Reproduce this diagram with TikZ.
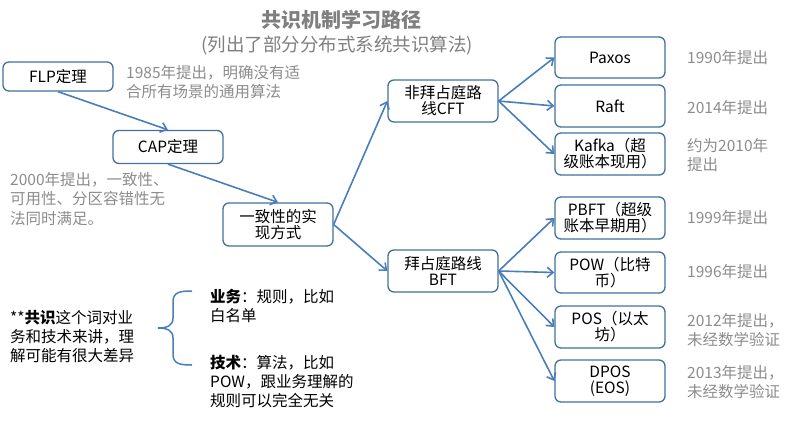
\documentclass[tikz,border=0pt]{standalone}
\usepackage{fontspec}
\setmainfont{Noto Sans CJK SC}
\usetikzlibrary{arrows.meta}
\definecolor{boxblue}{HTML}{41719C}
\definecolor{arrblue}{HTML}{4A7EBB}
\definecolor{notegray}{HTML}{8C8C8C}
\definecolor{titlegray}{HTML}{7F7F7F}
\begin{document}
\begin{tikzpicture}[x=1pt,y=-1pt,
 box/.style={draw=boxblue, line width=1.3pt, rounded corners=6pt, fill=white, minimum width=110pt, inner sep=0pt, align=center, font=\fontsize{15.5}{16}\selectfont},
 note/.style={anchor=west, inner sep=0pt, align=left, text=notegray, font=\fontsize{15.5}{19.5}\selectfont},
 plain/.style={anchor=west, inner sep=0pt, align=left, text=black, font=\fontsize{15.5}{19}\selectfont},
 conn/.style={draw=arrblue, line width=1.6pt, -{Straight Barb[length=6pt,width=10pt]}},
]
\useasboundingbox (0,0) rectangle (800,426);
% titles
\node[inner sep=0pt, text=titlegray, font=\fontsize{20}{22}\selectfont\bfseries] (title) at (341,20) {共识机制学习路径};
\node[inner sep=0pt, text=titlegray, font=\fontsize{18.5}{20}\selectfont] (subtitle) at (337,45) {(列出了部分分布式系统共识算法)};
% boxes
\node[box, minimum height=29pt] (flp) at (58,76.5) {FLP定理};
\node[box, minimum height=33pt] (cap) at (168,147) {CAP定理};
\node[box, minimum height=43pt] (yzx) at (278,224.5) {一致性的实\\现方式};
\node[box, minimum height=42pt] (cft) at (443,101) {非拜占庭路\\线CFT};
\node[box, minimum height=42pt] (bft) at (443,271) {拜占庭路线\\BFT};
\node[box, minimum height=41pt] (paxos) at (610,57.5) {Paxos};
\node[box, minimum height=42pt] (raft) at (610,106) {Raft};
\node[box, minimum height=42pt] (kafka) at (610,154) {Kafka（超\\级账本现用）};
\node[box, minimum height=42pt] (pbft) at (610,218) {PBFT（超级\\账本早期用）};
\node[box, minimum height=41pt] (pow) at (610,272.5) {POW（比特\\币）};
\node[box, minimum height=42pt] (pos) at (610,327) {POS（以太\\坊）};
\node[box, minimum height=42pt] (dpos) at (610,381) {DPOS\\(EOS)};
% notes
\node[note] (n1985) at (126,82) {1985年提出，明确没有适\\合所有场景的通用算法};
\node[note] (n2000) at (10,199) {2000年提出，一致性、\\可用性、分区容错性无\\法同时满足。};
\node[note] (n1990) at (687,58) {1990年提出};
\node[note] (n2014) at (687,108) {2014年提出};
\node[note] (n2010) at (687,155) {约为2010年\\提出};
\node[note] (n1999) at (687,218) {1999年提出};
\node[note] (n1996) at (687,272) {1996年提出};
\node[note] (n2012) at (687,330) {2012年提出，\\未经数学验证};
\node[note] (n2013) at (687,382) {2013年提出，\\未经数学验证};
% bottom texts
\node[plain] (gongshi) at (10,337) {**\textbf{共识}这个词对业\\务和技术来讲，理\\解可能有很大差异};
\node[plain] (yewu) at (210,306) {\textbf{业务}：规则，比如\\白名单};
\node[plain] (jishu) at (210,382) {\textbf{技术}：算法，比如\\POW，跟业务理解的\\规则可以完全无关};
% brace
\draw[arrblue, line width=1.5pt] (192,291) .. controls (180,291) and (173,292) .. (173,302) -- (173,318) .. controls (173,325) and (168,328) .. (158,328) .. controls (168,328) and (173,331) .. (173,338) -- (173,354) .. controls (173,364) and (180,365) .. (192,365);
% connectors
\draw[conn] (flp.south) -- (cap.north);
\draw[conn] (cap.south) -- (yzx.north);
\draw[conn] (yzx.east) -- (cft.west);
\draw[conn] (yzx.east) -- (bft.west);
\draw[conn] (cft.east) -- (paxos.west);
\draw[conn] (cft.east) -- (raft.west);
\draw[conn] (cft.east) -- (kafka.west);
\draw[conn] (bft.east) -- (pbft.west);
\draw[conn] (bft.east) -- (pow.west);
\draw[conn] (bft.east) -- (pos.west);
\draw[conn] (bft.east) -- (dpos.west);
\end{tikzpicture}
\end{document}
